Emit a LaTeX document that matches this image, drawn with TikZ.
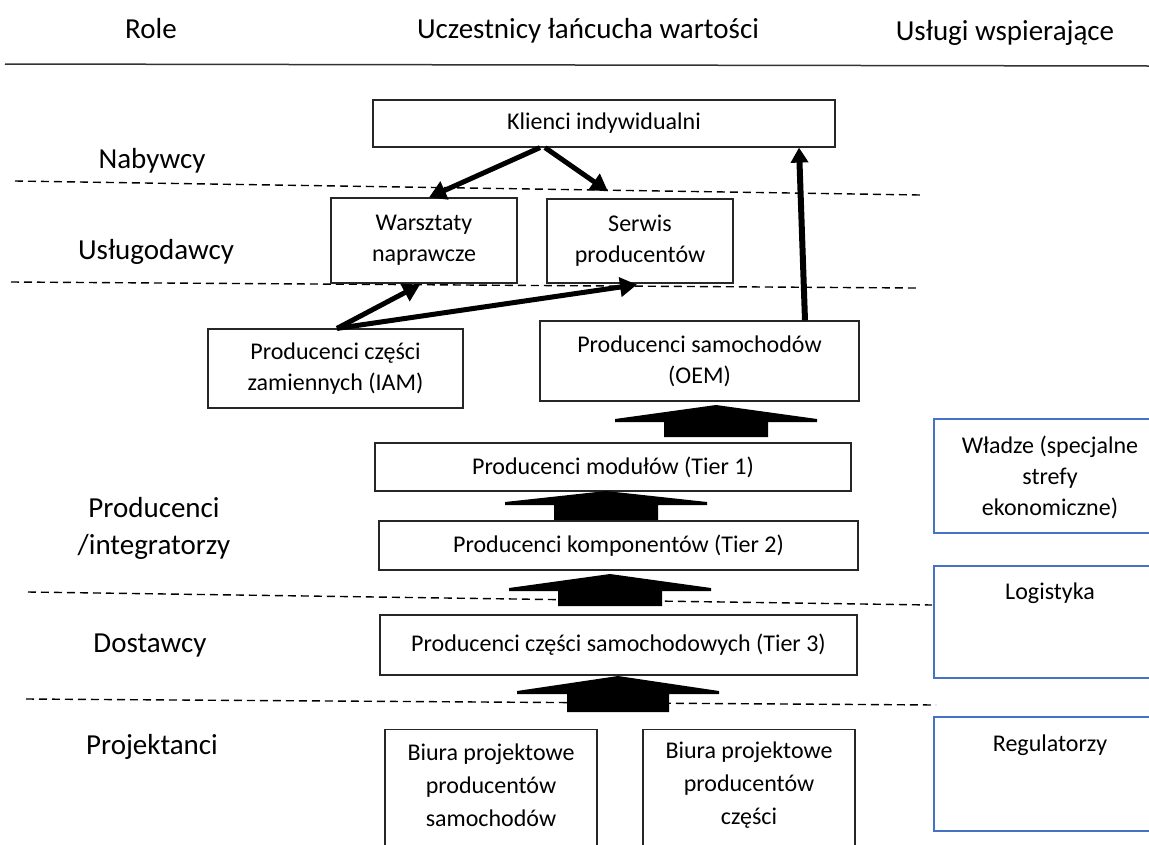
\documentclass[tikz,border=0pt]{standalone}
\usepackage{fontspec}
\setmainfont{Carlito}
\usetikzlibrary{arrows.meta,calc}
\definecolor{bluebox}{HTML}{4472C4}
\definecolor{boxline}{HTML}{262626}
\newcommand\blockup[6]{% cx, apex y, head half width, stem half width, base y, stem bottom y
  \fill[black] (#1,#2) -- ($(#1,#5)+(#3,-3)$) -- ($(#1,#5)+(#3,0)$) -- ($(#1,#5)+(#4,0)$) -- ($(#1,#6)+(#4,0)$)
   -- ($(#1,#6)+(-#4,0)$) -- ($(#1,#5)+(-#4,0)$) -- ($(#1,#5)+(-#3,0)$) -- ($(#1,#5)+(-#3,-3)$) -- cycle;}
\begin{document}
\begin{tikzpicture}[x=1pt,y=-1pt,
  box/.style={draw=boxline,line width=1.2pt,fill=white,inner sep=0pt,align=center,
    font=\fontsize{24}{31}\selectfont},
  sbox/.style={draw=bluebox,line width=2pt,inner sep=0pt},
  btext/.style={inner sep=0pt,align=center,font=\fontsize{24}{31}\selectfont},
  lbl/.style={inner sep=0pt,align=center,font=\fontsize{29}{37}\selectfont},
  hdr/.style={inner sep=0pt,font=\fontsize{29}{34}\selectfont},
  flow/.style={line width=5pt,-{Triangle[length=17pt,width=19pt]}},
  sep/.style={line width=1.4pt,dash pattern=on 8pt off 5pt},
]
\useasboundingbox (0,0) rectangle (1149,844);
% header
\node[hdr,anchor=base] (hrole) at (151,38) {Role};
\node[hdr,anchor=base] (hucz) at (588,38) {Uczestnicy łańcucha wartości};
\node[hdr,anchor=base] (husl) at (1005,40) {Usługi wspierające};
\draw[line width=1.5pt,black!80] (5,64) -- (1149,66);
% separators
\draw[sep] (15,181) -- (920,195);
\draw[sep] (11,282) -- (916,288);
\draw[sep] (28,592) -- (932,605);
\draw[sep] (26,699) -- (936,705);
% role labels
\node[lbl] (lnab) at (152,161) {Nabywcy};
\node[lbl] (lusl) at (156,252) {Usługodawcy};
\node[lbl] (lpro) at (154,528) {Producenci\\/integratorzy};
\node[lbl] (ldos) at (150,646) {Dostawcy};
\node[lbl] (lpoj) at (152,747) {Projektanci};
% boxes
\node[box,minimum width=462,minimum height=47] (kli) at (604,123.5) {Klienci indywidualni};
\node[box,minimum width=186,minimum height=85] (war) at (424,240.5) {Warsztaty\\naprawcze};
\node[box,minimum width=186,minimum height=84] (ser) at (640,241) {Serwis\\producentów};
\node[box,minimum width=255,minimum height=79] (iam) at (335.5,368.5) {Producenci części\\zamiennych (IAM)};
\node[box,minimum width=319,minimum height=80] (oem) at (699.5,361) {Producenci samochodów\\(OEM)};
\node[box,minimum width=476,minimum height=48] (t1) at (613,467) {Producenci modułów (Tier 1)};
\node[box,minimum width=479,minimum height=49] (t2) at (618.5,545.5) {Producenci komponentów (Tier 2)};
\node[box,minimum width=477,minimum height=60] (t3) at (618.5,645) {Producenci części samochodowych (Tier 3)};
\node[box,minimum width=212,minimum height=140,anchor=north] (b1) at (491,729) {};
\node[btext,font=\fontsize{24}{33}\selectfont] (b1t) at (491,785) {Biura projektowe\\producentów\\samochodów};
\node[box,minimum width=212,minimum height=140,anchor=north] (b2) at (749,729) {};
\node[btext,font=\fontsize{24}{33}\selectfont] (b2t) at (749,785) {Biura projektowe\\producentów\\części};
% support boxes
\node[sbox,minimum width=232,minimum height=114] (wla) at (1050,476) {};
\node[btext] (wlat) at (1050,477) {Władze (specjalne\\strefy\\ekonomiczne)};
\node[sbox,minimum width=232,minimum height=112] (log) at (1050,622) {};
\node[btext] (logt) at (1050,593) {Logistyka};
\node[sbox,minimum width=232,minimum height=114] (reg) at (1050,774) {};
\node[btext] (regt) at (1050,745) {Regulatorzy};
% flow arrows
\draw[flow] ([xshift=-64pt]kli.south) -- ([xshift=5pt]war.north);
\draw[flow] ([xshift=-59pt]kli.south) -- ([xshift=-32pt,yshift=7pt]ser.north);
\draw[flow] ([xshift=1.5pt]iam.north) -- ([xshift=-4pt,yshift=-1pt]war.south);
\draw[flow] ([xshift=1.5pt]iam.north) -- ([xshift=-3pt,yshift=-1pt]ser.south);
\draw[line width=6pt,-{Triangle[length=15pt,width=17pt]}] ([xshift=105.5pt]oem.north) -- ([xshift=195pt]kli.south);
% block arrows
\blockup{716}{405}{101}{52}{422}{437}
\blockup{606}{491}{101}{52}{505}{520}
\blockup{610}{574}{101}{52}{591}{606}
\blockup{618}{676}{101}{51}{694}{712}
\end{tikzpicture}
\end{document}
